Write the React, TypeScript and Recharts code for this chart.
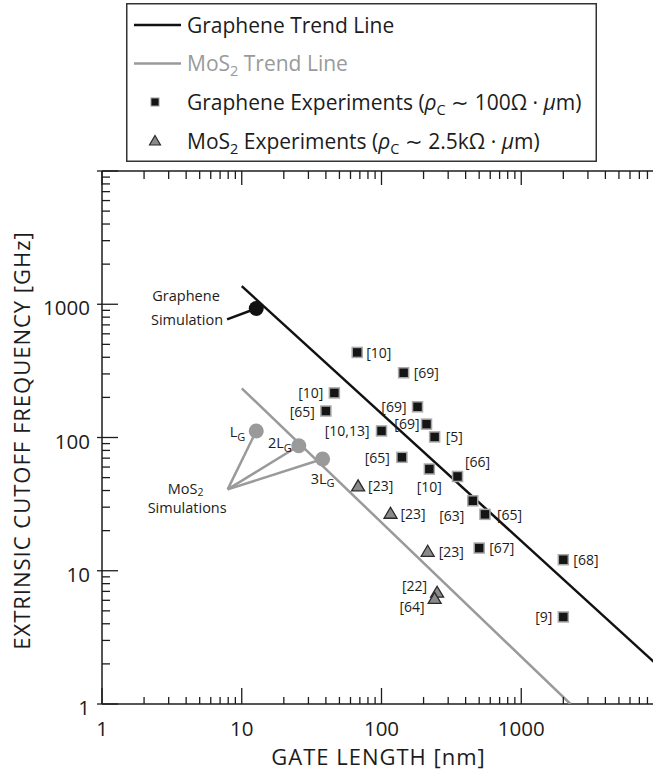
import React from "react";
import { Legend, Scatter, ScatterChart, XAxis, YAxis } from "recharts";

const FONT = "'Open Sans', Lato, sans-serif";
const INK = "#1c1c1c";
const GREY = "#9a9a9a";

// axes: both log10, 1 .. 10^4
const decades = [1, 10, 100, 1000, 10000];
const decadeLabels = ["1", "10", "100", "1000", ""];

// graphene experiments: gate length [nm], extrinsic fT [GHz], reference
const grapheneExpLength = [67, 144, 46, 40, 181, 210, 240, 100, 140, 220, 350, 450, 550, 500, 2000, 2000];
const grapheneExpFreq = [435, 306, 216, 158, 170, 126, 101, 112, 71, 58, 51, 33.5, 26.5, 14.8, 12.1, 4.5];
const grapheneExpRefs = ["[10]", "[69]", "[10]", "[65]", "[69]", "[69]", "[5]", "[10,13]", "[65]", "[10]", "[66]", "[63]", "[65]", "[67]", "[68]", "[9]"];

// MoS2 experiments
const mos2ExpLength = [68, 116, 214, 250, 240];
const mos2ExpFreq = [43.4, 27, 14, 6.9, 6.2];
const mos2ExpRefs = ["[23]", "[23]", "[23]", "[22]", "[64]"];

// trend lines (end points)
const grapheneTrendLength = [10, 10000];
const grapheneTrendFreq = [1367, 1.85];
const mos2TrendLength = [10, 2250];
const mos2TrendFreq = [234, 1];

// simulations
const grapheneSimLength = [12.7];
const grapheneSimFreq = [930];
const mos2SimLength = [12.7, 25.6, 37.9];
const mos2SimFreq = [112, 86.7, 68.9];
const mos2SimNames = ["L", "2L", "3L"];

// callout anchors (where the annotation leader lines start)
const grapheneCalloutAt = [7.85, 769];
const mos2CalloutAt = [7.93, 40.8];

// label placement next to each marker: [dx, dy, anchor]
type Place = [number, number, "start" | "middle" | "end"];
const grapheneRefPlace: Place[] = [
  [9, 0, "start"], [10, 0, "start"], [-11, 0, "end"], [-11, 0, "end"],
  [-11, 0, "end"], [-7, -1, "end"], [11, 0, "start"], [-12, 0, "end"],
  [-12, 0, "end"], [0, 17, "middle"], [20, -15, "middle"], [-21, 15, "middle"],
  [12, 0, "start"], [10, -1, "start"], [10, 0, "start"], [-11, 0, "end"],
];
const mos2RefPlace: Place[] = [
  [10, 0, "start"], [10, 0, "start"], [11, 0, "start"], [-10, -7, "end"], [-10, 8, "end"],
];
const mos2SimPlace: Place[] = [[-11, 1, "end"], [-7, -3, "end"], [0, 19, "middle"]];

const pairs = (xs: number[], ys: number[]) => xs.map((x, i) => ({ x, y: ys[i] }));

const grapheneExp = grapheneExpLength.map((x, i) => ({
  x, y: grapheneExpFreq[i], ref: grapheneExpRefs[i], place: grapheneRefPlace[i],
}));
const mos2Exp = mos2ExpLength.map((x, i) => ({
  x, y: mos2ExpFreq[i], ref: mos2ExpRefs[i], place: mos2RefPlace[i],
}));
const mos2Sim = mos2SimLength.map((x, i) => ({
  x, y: mos2SimFreq[i], name: mos2SimNames[i], place: mos2SimPlace[i],
}));

const minorTicks = decades.slice(0, -1).flatMap((d) => [2, 3, 4, 5, 6, 7, 8, 9].map((m) => d * m));
const allTicks = [...decades, ...minorTicks].sort((a, b) => a - b);
const isMajor = (v: number) => decades.includes(v);
const labelOf = (v: number) => decadeLabels[decades.indexOf(v)] ?? "";

const textProps = { fontFamily: FONT, fill: INK };

function BottomTick({ x, y, payload }: any) {
  const major = isMajor(payload.value);
  return (
    <g>
      <line x1={x} x2={x} y1={y} y2={y - (major ? 16 : 7)} stroke={INK} strokeWidth={1.3} />
      {major && (
        <text x={x} y={y + 24} textAnchor="middle" dominantBaseline="central" fontSize={20.5} {...textProps}>
          {labelOf(payload.value)}
        </text>
      )}
    </g>
  );
}

function TopTick({ x, y, payload }: any) {
  const major = isMajor(payload.value);
  return <line x1={x} x2={x} y1={y} y2={y + (major ? 14 : 8)} stroke={INK} strokeWidth={1.3} />;
}

function LeftTick({ x, y, payload }: any) {
  const major = isMajor(payload.value);
  return (
    <g>
      <line x1={major ? x - 5 : x} x2={x + (major ? 16 : 8)} y1={y} y2={y} stroke={INK} strokeWidth={1.3} />
      {major && (
        <text x={x - 12} y={y + 3} textAnchor="end" dominantBaseline="central" fontSize={20.5} {...textProps}>
          {labelOf(payload.value)}
        </text>
      )}
    </g>
  );
}

function RightTick({ x, y, payload }: any) {
  const major = isMajor(payload.value);
  return <line x1={x} x2={x - (major ? 20 : 11)} y1={y} y2={y} stroke={INK} strokeWidth={1.3} />;
}

const noMarker = () => <g />;

function SquareMarker({ cx, cy, payload }: any) {
  const [dx, dy, anchor] = payload.place;
  return (
    <g>
      <rect x={cx - 5} y={cy - 5} width={10} height={10} fill="#151515" stroke="#a8a8a8" strokeWidth={1.5} />
      <text x={cx + dx} y={cy + dy} textAnchor={anchor} dominantBaseline="central" fontSize={14} {...textProps}>
        {payload.ref}
      </text>
    </g>
  );
}

function TriangleMarker({ cx, cy, payload }: any) {
  const [dx, dy, anchor] = payload.place;
  return (
    <g>
      <path d={`M${cx},${cy - 6} L${cx + 6.5},${cy + 5} L${cx - 6.5},${cy + 5} Z`} fill="#8a8a8a" stroke="#2a2a2a" strokeWidth={1.3} />
      <text x={cx + dx} y={cy + dy} textAnchor={anchor} dominantBaseline="central" fontSize={14} {...textProps}>
        {payload.ref}
      </text>
    </g>
  );
}

function GrapheneSimDot({ cx, cy }: any) {
  return <circle cx={cx} cy={cy} r={7.5} fill="#111" />;
}

function MosSimDot({ cx, cy, payload }: any) {
  const [dx, dy, anchor] = payload.place;
  return (
    <g>
      <circle cx={cx} cy={cy} r={7.5} fill={GREY} />
      <text x={cx + dx} y={cy + dy} textAnchor={anchor} dominantBaseline="central" fontSize={14.5} {...textProps}>
        {payload.name}
        <tspan fontSize={11} dy={4}>G</tspan>
      </text>
    </g>
  );
}

function GrapheneCallout({ cx, cy, index }: any) {
  if (index !== 0) return <g />;
  return (
    <g fontSize={14.5} {...textProps}>
      <text x={cx - 41} y={cy - 24} textAnchor="middle" dominantBaseline="central">Graphene</text>
      <text x={cx - 4} y={cy} textAnchor="end" dominantBaseline="central">Simulation</text>
    </g>
  );
}

function MosCallout({ cx, cy, index }: any) {
  if (index !== 0) return <g />;
  return (
    <g fontSize={14.5} {...textProps}>
      <text x={cx - 42} y={cy - 1} textAnchor="middle" dominantBaseline="central">
        MoS<tspan fontSize={10.5} dy={4}>2</tspan>
      </text>
      <text x={cx - 1} y={cy + 18} textAnchor="end" dominantBaseline="central">Simulations</text>
    </g>
  );
}

function LegendBox() {
  const tx = 61;
  const rows = [22, 60.5, 99, 138];
  const base = (c: number) => c + 7.5;
  const subDown = { fontSize: 14.5, dy: 5 };
  return (
    <svg width={471} height={159} style={{ display: "block" }}>
      <rect x={0.75} y={0.75} width={469.5} height={157.5} fill="#fff" stroke="#333" strokeWidth={1.5} />
      <g fontFamily={FONT} fontSize={21}>
        <line x1={8} x2={55} y1={rows[0]} y2={rows[0]} stroke="#111" strokeWidth={2.5} />
        <text x={tx} y={base(rows[0])} fill={INK}>Graphene Trend Line</text>

        <line x1={8} x2={55} y1={rows[1]} y2={rows[1]} stroke={GREY} strokeWidth={2.5} />
        <text x={tx} y={base(rows[1])} fill={GREY}>
          MoS<tspan {...subDown}>2</tspan>
          <tspan dy={-5}> Trend Line</tspan>
        </text>

        <rect x={25} y={rows[2] - 4} width={8} height={8} fill="#151515" stroke="#999" strokeWidth={1} />
        <text x={tx} y={base(rows[2])} fill={INK}>
          Graphene Experiments (<tspan fontStyle="italic">ρ</tspan>
          <tspan {...subDown}>C</tspan>
          <tspan dy={-5}> ∼ 100Ω · </tspan>
          <tspan fontStyle="italic">μ</tspan>m)
        </text>

        <path d={`M29,${rows[3] - 5.5} L34.5,${rows[3] + 4} L23.5,${rows[3] + 4} Z`} fill="#8a8a8a" stroke="#2a2a2a" strokeWidth={1.2} />
        <text x={tx} y={base(rows[3])} fill={INK}>
          MoS<tspan {...subDown}>2</tspan>
          <tspan dy={-5}> Experiments (</tspan>
          <tspan fontStyle="italic">ρ</tspan>
          <tspan {...subDown}>C</tspan>
          <tspan dy={-5}> ∼ 2.5kΩ · </tspan>
          <tspan fontStyle="italic">μ</tspan>m)
        </text>
      </g>
    </svg>
  );
}

export default function App() {
  return (
    <div style={{ position: "absolute", left: 0, top: 0, width: 653, height: 774, overflow: "hidden", background: "#fff" }}>
      <ScatterChart width={661} height={774} margin={{ top: 0, right: 0, bottom: 0, left: 0 }}>
        <XAxis
          dataKey="x"
          type="number"
          scale="log"
          domain={[1, 10000]}
          allowDataOverflow
          ticks={allTicks}
          interval={0}
          height={70}
          tickSize={0}
          tickMargin={0}
          tickLine={false}
          tick={<BottomTick />}
          axisLine={{ stroke: INK, strokeWidth: 1.5 }}
          label={{
            content: ({ viewBox }: any) => (
              <text x={viewBox.x + viewBox.width / 2 - 3} y={viewBox.y + 52} textAnchor="middle" dominantBaseline="central" fontSize={22} letterSpacing={1} {...textProps}>
                GATE LENGTH [nm]
              </text>
            ),
          }}
        />
        <XAxis
          xAxisId="top"
          orientation="top"
          dataKey="x"
          type="number"
          scale="log"
          domain={[1, 10000]}
          allowDataOverflow
          ticks={allTicks}
          interval={0}
          height={171}
          tickSize={0}
          tickMargin={0}
          tickLine={false}
          tick={<TopTick />}
          axisLine={{ stroke: INK, strokeWidth: 1.5 }}
        />
        <YAxis
          dataKey="y"
          type="number"
          scale="log"
          domain={[1, 10000]}
          allowDataOverflow
          ticks={allTicks}
          interval={0}
          width={102}
          tickSize={0}
          tickMargin={0}
          tickLine={false}
          tick={<LeftTick />}
          axisLine={{ stroke: INK, strokeWidth: 1.5 }}
          label={{
            content: ({ viewBox }: any) => {
              const cx = 21;
              const cy = viewBox.y + viewBox.height / 2 + 3;
              return (
                <text x={cx} y={cy} transform={`rotate(-90 ${cx} ${cy})`} textAnchor="middle" dominantBaseline="central" fontSize={22} letterSpacing={1} {...textProps}>
                  EXTRINSIC CUTOFF FREQUENCY [GHz]
                </text>
              );
            },
          }}
        />
        <YAxis
          yAxisId="right"
          orientation="right"
          dataKey="y"
          type="number"
          scale="log"
          domain={[1, 10000]}
          allowDataOverflow
          ticks={allTicks}
          interval={0}
          width={0}
          tickSize={0}
          tickMargin={0}
          tickLine={false}
          tick={<RightTick />}
          axisLine={{ stroke: INK, strokeWidth: 1.5 }}
        />
        <Legend
          layout="horizontal"
          verticalAlign="middle"
          align="center"
          wrapperStyle={{ position: "absolute", left: 126, top: 3, width: 471, height: 159 }}
          content={() => <LegendBox />}
        />

        <Scatter
          name="Graphene Trend Line"
          data={pairs(grapheneTrendLength, grapheneTrendFreq)}
          line={{ stroke: "#111", strokeWidth: 2.5 }}
          shape={noMarker}
          isAnimationActive={false}
        />
        <Scatter
          name="MoS2 Trend Line"
          data={pairs(mos2TrendLength, mos2TrendFreq)}
          line={{ stroke: GREY, strokeWidth: 2.5 }}
          shape={noMarker}
          isAnimationActive={false}
        />

        <Scatter
          data={pairs([grapheneCalloutAt[0], grapheneSimLength[0]], [grapheneCalloutAt[1], grapheneSimFreq[0]])}
          line={{ stroke: "#111", strokeWidth: 2.5 }}
          shape={<GrapheneCallout />}
          isAnimationActive={false}
        />
        {mos2Sim.map((s, i) => (
          <Scatter
            key={i}
            data={pairs([mos2CalloutAt[0], s.x], [mos2CalloutAt[1], s.y])}
            line={{ stroke: GREY, strokeWidth: 2.5 }}
            shape={i === 0 ? <MosCallout /> : noMarker}
            isAnimationActive={false}
          />
        ))}

        <Scatter data={pairs(grapheneSimLength, grapheneSimFreq)} shape={<GrapheneSimDot />} isAnimationActive={false} />
        <Scatter data={mos2Sim} shape={<MosSimDot />} isAnimationActive={false} />

        <Scatter name="Graphene Experiments" data={grapheneExp} shape={<SquareMarker />} isAnimationActive={false} />
        <Scatter name="MoS2 Experiments" data={mos2Exp} shape={<TriangleMarker />} isAnimationActive={false} />
      </ScatterChart>
    </div>
  );
}
